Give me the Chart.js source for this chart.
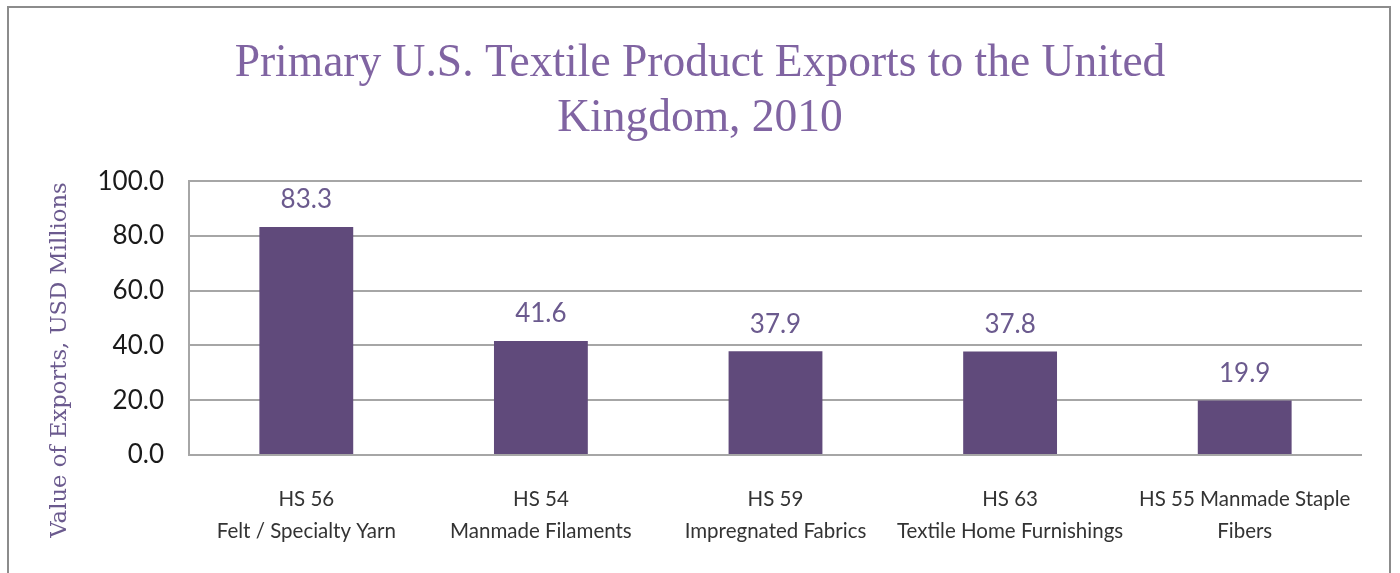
<!DOCTYPE html>
<html lang="en">
  <head>
    <meta charset="UTF-8" />
    <title>Primary U.S. Textile Product Exports to the United Kingdom, 2010</title>
    <script src="https://cdn.jsdelivr.net/npm/chart.js"></script>
    <style>
      body {
        margin: 0;
        background-color: #ffffff;
        width: 1400px;
        height: 573px;
        overflow: hidden;
        position: relative;
      }

      .frame {
        position: absolute;
        left: 7px;
        top: 6px;
        width: 1384px;
        height: 620px;
        border: 2px solid #8c8c8c;
        box-sizing: border-box;
      }

      .chart-container {
        position: absolute;
        left: 0;
        top: 0;
        width: 1400px;
        height: 573px;
      }
    </style>
  </head>

  <body>
    <div class="frame"></div>
    <div class="chart-container">
      <canvas id="exportsChart"></canvas>
    </div>

    <script>
      // data
      const categories = [
        ["HS 56", "Felt / Specialty Yarn"],
        ["HS 54", "Manmade Filaments"],
        ["HS 59", "Impregnated Fabrics"],
        ["HS 63", "Textile Home Furnishings"],
        ["HS 55 Manmade Staple", "Fibers"],
      ];
      const exportValues = [83.3, 41.6, 37.9, 37.8, 19.9];
      const yTicks = [0, 20, 40, 60, 80, 100];

      const titleLines = [
        "Primary U.S. Textile Product Exports to the United",
        "Kingdom, 2010",
      ];
      const yTitle = "Value of Exports, USD Millions";

      // value labels above each bar
      const barLabels = {
        id: "barLabels",
        afterDatasetsDraw(chart) {
          const ctx = chart.ctx;
          const meta = chart.getDatasetMeta(0);
          ctx.save();
          ctx.font = '26px "Lato", sans-serif';
          ctx.fillStyle = "#6b5a8e";
          ctx.textAlign = "center";
          ctx.textBaseline = "middle";
          meta.data.forEach((bar, i) => {
            ctx.fillText(exportValues[i].toFixed(1), bar.x, bar.y - 27);
          });
          ctx.restore();
        },
      };

      // rotated y axis title, sits lower than the plot centre like the original
      const axisTitle = {
        id: "axisTitle",
        afterDraw(chart) {
          const ctx = chart.ctx;
          ctx.save();
          ctx.translate(60, 360);
          ctx.rotate(-Math.PI / 2);
          ctx.font = '22.7px "DejaVu Serif", serif';
          ctx.fillStyle = "#6b5a8e";
          ctx.textAlign = "center";
          ctx.textBaseline = "middle";
          ctx.fillText(yTitle, 0, 0);
          ctx.restore();
        },
      };

      const ctx = document.getElementById("exportsChart").getContext("2d");
      new Chart(ctx, {
        type: "bar",
        data: {
          labels: categories,
          datasets: [
            {
              data: exportValues,
              backgroundColor: "#604a7b",
              borderWidth: 0,
              barPercentage: 0.4,
              categoryPercentage: 1.0,
            },
          ],
        },
        options: {
          responsive: true,
          maintainAspectRatio: false,
          animation: false,
          layout: {
            padding: { left: 38, right: 38, top: 0, bottom: 0 },
          },
          plugins: {
            legend: { display: false },
            tooltip: { enabled: false },
            title: {
              display: true,
              text: titleLines,
              color: "#8064a2",
              font: { family: '"Liberation Serif", serif', size: 45.5, weight: "normal" },
              lineHeight: 1.03,
              padding: { top: 37, bottom: 35 },
            },
          },
          scales: {
            x: {
              grid: { display: false },
              border: { display: false },
              ticks: {
                color: "#333333",
                font: { family: '"Lato", sans-serif', size: 20.5, lineHeight: 1.56 },
                padding: 20,
                maxRotation: 0,
                autoSkip: false,
              },
              afterFit(scale) {
                scale.height = 118;
              },
            },
            y: {
              min: 0,
              max: 100,
              afterBuildTicks(scale) {
                scale.ticks = yTicks.map((v) => ({ value: v }));
              },
              grid: {
                color: "#a6a6a6",
                lineWidth: 2,
                drawTicks: false,
              },
              border: { display: true, color: "#a6a6a6", width: 2 },
              ticks: {
                color: "#1a1a1a",
                font: { family: '"Lato", sans-serif', size: 26 },
                padding: 25,
                callback: (v) => v.toFixed(1),
              },
              afterFit(scale) {
                scale.width = 151;
              },
            },
          },
        },
        plugins: [barLabels, axisTitle],
      });
    </script>
  </body>
</html>
